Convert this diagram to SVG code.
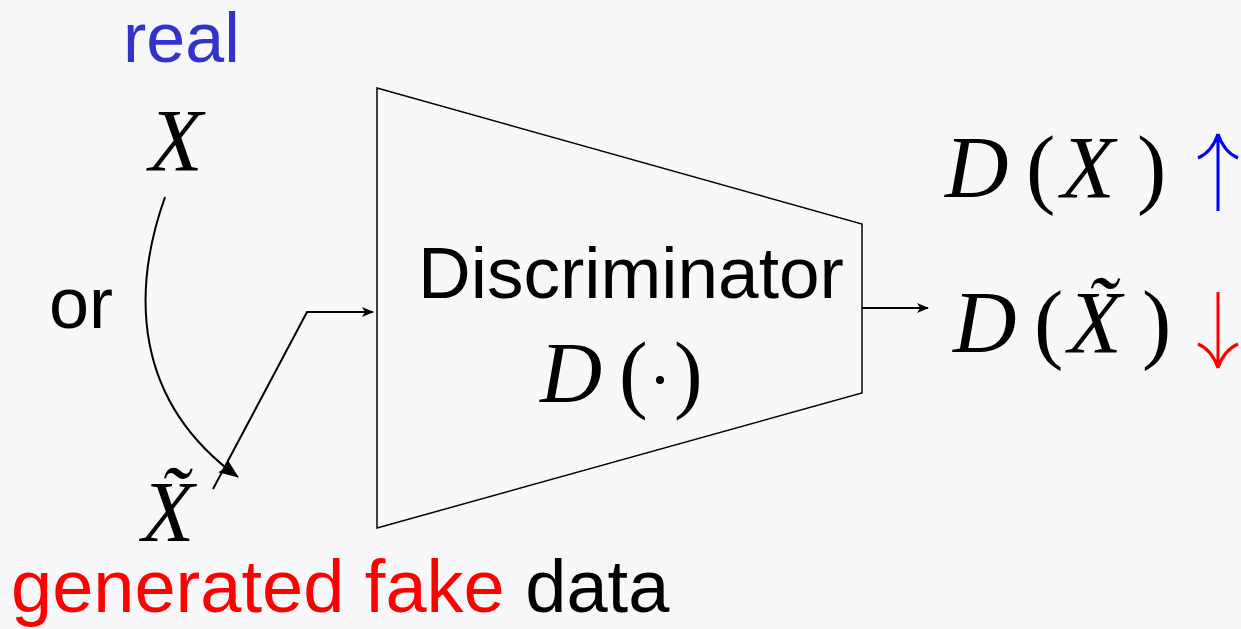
<svg xmlns="http://www.w3.org/2000/svg" width="1241" height="629" viewBox="0 0 1241 629">
<style>
.sans{font-family:"Liberation Sans",Arial,sans-serif;}
.mi{font-family:"Liberation Serif","Times New Roman",serif;font-style:italic;}
.mr{font-family:"Liberation Serif","Times New Roman",serif;}
.conn{fill:none;stroke:#000;stroke-width:2;}
</style>
<defs>
<marker id="ah" viewBox="0 0 12 10" refX="11" refY="5" markerWidth="12" markerHeight="10" markerUnits="userSpaceOnUse" orient="auto">
<path d="M0,0 L12,5 L0,10 L3,5 Z" fill="#000"/>
</marker>
<marker id="ahb" viewBox="0 0 20 16" refX="19" refY="8" markerWidth="20" markerHeight="16" markerUnits="userSpaceOnUse" orient="auto">
<path d="M0,0 L20,8 L0,16 L4,8 Z" fill="#000"/>
</marker>
</defs>
<rect width="1241" height="629" fill="#f8f8fa"/>

<g id="real-label"><text class="sans" x="123" y="62" font-size="70" fill="#3333cc">real</text></g>
<g id="node-x"><text class="mi" x="176" y="170" font-size="88" text-anchor="middle">X</text></g>
<g id="or-label"><text class="sans" x="49" y="328" font-size="72">or</text></g>
<g id="node-xtilde"><text class="mi" x="168" y="541" font-size="86" text-anchor="middle">X̃</text></g>
<g id="fake-label"><text class="sans" x="11" y="612" font-size="74"><tspan fill="#ff0000">generated fake</tspan> <tspan fill="#000">data</tspan></text></g>

<g id="discriminator">
<polygon points="377,88 862,224 862,393 377,528" fill="none" stroke="#000" stroke-width="1.5"/>
<text class="sans" x="418" y="298" font-size="73">Discriminator</text>
<text class="mi" x="540" y="402" font-size="86">D</text>
<text class="mr" x="619" y="402" font-size="86">(</text>
<circle cx="660" cy="380" r="4" fill="#000"/>
<text class="mr" x="674" y="402" font-size="86">)</text>
</g>

<g id="out-real">
<text class="mi" x="945" y="197" font-size="88">D</text>
<text class="mr" x="1026" y="197" font-size="88">(</text>
<text class="mi" x="1088" y="197" font-size="88" text-anchor="middle">X</text>
<text class="mr" x="1137" y="197" font-size="88">)</text>
<path d="M1218,211 L1218,134 M1218,134 Q1212,152 1198,158 M1218,134 Q1224,152 1238,158" fill="none" stroke="#0000ff" stroke-width="3"/>
</g>

<g id="out-fake">
<text class="mi" x="953" y="352" font-size="88">D</text>
<text class="mr" x="1034" y="352" font-size="88">(</text>
<text class="mi" x="1095" y="352" font-size="88" text-anchor="middle">X̃</text>
<text class="mr" x="1142" y="352" font-size="88">)</text>
<path d="M1218,292 L1218,368 M1218,368 Q1212,350 1198,344 M1218,368 Q1224,350 1238,344" fill="none" stroke="#ff0000" stroke-width="3"/>
</g>

<g id="connectors">
<path class="conn" d="M165,197 C132,290 132,400 238,477" marker-end="url(#ahb)"/>
<path class="conn" d="M213,489 L307,312 L373,312" marker-end="url(#ah)"/>
<path class="conn" d="M862,308 L928,308" marker-end="url(#ah)"/>
</g>
</svg>
